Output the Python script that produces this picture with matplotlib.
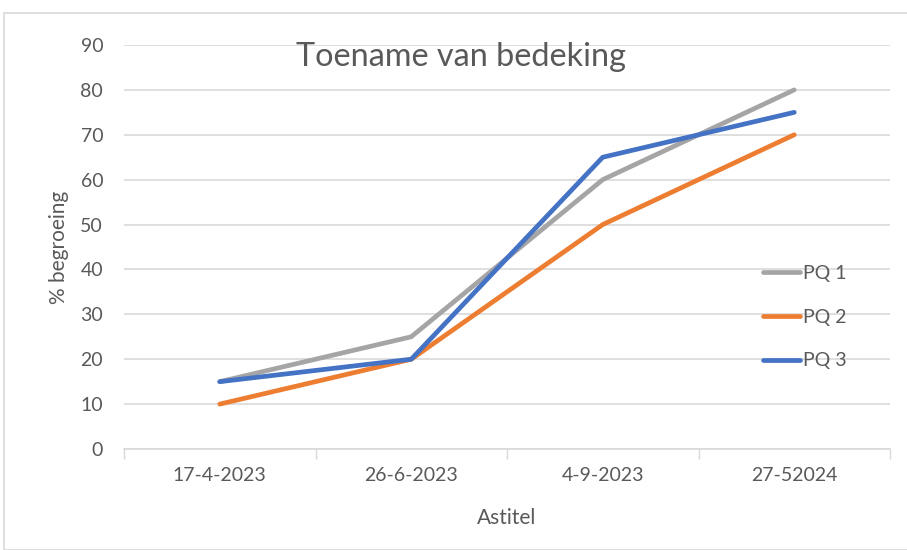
import matplotlib
matplotlib.use("Agg")
import matplotlib.pyplot as plt
from matplotlib.patches import Rectangle

categories = ["17-4-2023", "26-6-2023", "4-9-2023", "27-52024"]
pq1 = [15, 25, 60, 80]
pq2 = [10, 20, 50, 70]
pq3 = [15, 20, 65, 75]
series_names = ["PQ 1", "PQ 2", "PQ 3"]
yticks = [0, 10, 20, 30, 40, 50, 60, 70, 80, 90]

plt.rcParams['font.family'] = ['Lato', 'DejaVu Sans']
txt = '#595959'
grid = '#d9d9d9'

fig = plt.figure(figsize=(9.07, 5.5), dpi=100)
fig.patch.set_facecolor('white')
fig.patches.append(Rectangle((4/907, 0), 1.0, 1 - 13/550, transform=fig.transFigure,
                             fill=False, edgecolor='#d9d9d9', linewidth=1.2))

ax = fig.add_axes([124/907, 1 - 449/550, (890 - 124)/907, (449 - 45)/550])
x = list(range(len(categories)))
colors = ['#a5a5a5', '#ed7d31', '#4472c4']
for vals, c, n in zip([pq1, pq2, pq3], colors, series_names):
    ax.plot(x, vals, color=c, linewidth=3.4, solid_capstyle='round', solid_joinstyle='round', label=n)

ax.set_xlim(-0.5, len(categories) - 0.5)
ax.set_ylim(0, 90)
ax.set_yticks(yticks)
ax.set_yticklabels([str(v) for v in yticks], color=txt, fontsize=14)
ax.set_xticks(x)
ax.set_xticklabels(categories, color=txt, fontsize=14)
ax.tick_params(axis='x', which='major', length=0, pad=13)
ax.tick_params(axis='y', length=0, pad=15)
ax.set_xticks([i - 0.5 for i in range(len(categories) + 1)], minor=True)
ax.tick_params(axis='x', which='minor', length=7, color=grid, width=1)
ax.grid(axis='y', color=grid, linewidth=1.2)
ax.set_axisbelow(True)
for s in ['top', 'right', 'left']:
    ax.spines[s].set_visible(False)
ax.spines['bottom'].set_color(grid)
ax.spines['bottom'].set_linewidth(1.2)

ax.set_xlabel("Astitel", color=txt, fontsize=15, labelpad=17)
ax.set_ylabel("% begroeing", color=txt, fontsize=15, labelpad=8)

fig.text(461/907, 1 - 57/550, "Toename van bedeking", color=txt, fontsize=23.3,
         ha='center', va='center')

leg = ax.legend(loc='upper left', bbox_to_anchor=((755 - 124)/766, (449 - 257)/404),
                frameon=False, fontsize=14, handlelength=1.9, handletextpad=0.15,
                labelspacing=1.38, borderaxespad=0)
for t in leg.get_texts():
    t.set_color(txt)

fig.savefig("out.png", dpi=100)
